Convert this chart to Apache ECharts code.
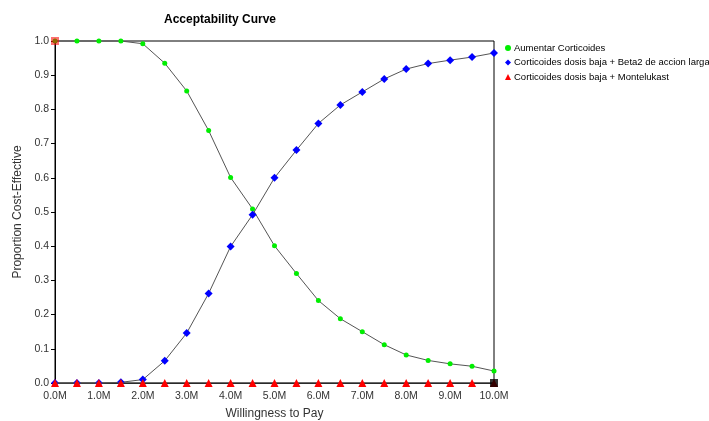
<!DOCTYPE html>
<html>
<head>
<meta charset="utf-8">
<script src="https://cdn.jsdelivr.net/npm/echarts@6/dist/echarts.min.js"></script>
<style>
html,body{margin:0;padding:0;background:#fff;}
#chart{width:709px;height:421px;}
</style>
</head>
<body>
<div id="chart"></div>
<script>
var wtp = [0, 0.5, 1.0, 1.5, 2.0, 2.5, 3.0, 3.5, 4.0, 4.5, 5.0, 5.5, 6.0, 6.5, 7.0, 7.5, 8.0, 8.5, 9.0, 9.5, 10.0];
var aumentar = [1.0, 1.0, 1.0, 1.0, 0.992, 0.935, 0.854, 0.738, 0.601, 0.509, 0.401, 0.320, 0.241, 0.188, 0.150, 0.112, 0.082, 0.066, 0.056, 0.049, 0.035];
var beta2 = [0, 0, 0, 0.002, 0.010, 0.065, 0.146, 0.262, 0.399, 0.492, 0.600, 0.681, 0.759, 0.813, 0.851, 0.889, 0.918, 0.934, 0.944, 0.953, 0.965];
var montelukast = [0, 0, 0, 0, 0, 0, 0, 0, 0, 0, 0, 0, 0, 0, 0, 0, 0, 0, 0, 0, 0];
var seriesNames = ['Aumentar Corticoides', 'Corticoides dosis baja + Beta2 de accion larga', 'Corticoides dosis baja + Montelukast'];
var cornerX = [0, 10];
var cornerY = [1, 0];

function pairs(xs, ys){ return xs.map(function(x,i){ return [x, ys[i]]; }); }

var font = 'Liberation Sans, Arial, sans-serif';
var chart = echarts.init(document.getElementById('chart'));
chart.setOption({
  animation: false,
  backgroundColor: '#fff',
  title: {
    text: 'Acceptability Curve',
    left: 159, top: 9,
    textStyle: {fontSize: 12, fontWeight: 'bold', color: '#000', fontFamily: font}
  },
  legend: {
    orient: 'vertical',
    left: 500, top: 38,
    itemWidth: 6, itemHeight: 6, itemGap: 4.5,
    textStyle: {fontSize: 9.5, color: '#000', fontFamily: font, padding: [0,0,0,-2]},
    data: [
      {name: seriesNames[0], icon: 'circle', itemStyle: {color: '#00ee00'}},
      {name: seriesNames[1], icon: 'diamond', itemStyle: {color: '#0000ff'}},
      {name: seriesNames[2], icon: 'triangle', itemStyle: {color: '#ff0000'}}
    ]
  },
  grid: {left: 55, right: 215, top: 41, bottom: 38, show: true, borderColor: '#000', borderWidth: 1,
    containLabel: false, outerBoundsMode: 'none'},
  xAxis: {
    type: 'value', min: 0, max: 10, interval: 1,
    name: 'Willingness to Pay', nameLocation: 'middle', nameGap: 25,
    nameTextStyle: {fontSize: 12, color: '#333', fontFamily: font},
    axisLine: {show: true, lineStyle: {color: '#000'}},
    axisTick: {show: true, length: 4, inside: false, lineStyle: {color: '#000'}},
    axisLabel: {fontSize: 10.5, color: '#333', fontFamily: font, margin: 8,
      formatter: function(v){ return v.toFixed(1) + 'M'; }},
    splitLine: {show: false}
  },
  yAxis: {
    type: 'value', min: 0, max: 1, interval: 0.1,
    name: 'Proportion Cost-Effective', nameLocation: 'middle', nameGap: 30, nameRotate: 90,
    nameTextStyle: {fontSize: 12, color: '#333', fontFamily: font},
    axisLine: {show: true, lineStyle: {color: '#000'}},
    axisTick: {show: true, length: 4, inside: false, lineStyle: {color: '#000'}},
    axisLabel: {fontSize: 10.5, color: '#333', fontFamily: font, margin: 6,
      formatter: function(v){ return v.toFixed(1); }},
    splitLine: {show: false}
  },
  series: [
    {
      name: seriesNames[0], type: 'line', data: pairs(wtp, aumentar),
      symbol: 'circle', symbolSize: 5, showAllSymbol: true, clip: false,
      lineStyle: {color: '#555', width: 1},
      itemStyle: {color: '#00ee00'}, z: 3
    },
    {
      name: seriesNames[1], type: 'line', data: pairs(wtp, beta2),
      symbol: 'diamond', symbolSize: 8, showAllSymbol: true, clip: false,
      lineStyle: {color: '#555', width: 1},
      itemStyle: {color: '#0000ff'}, z: 4
    },
    {
      name: seriesNames[2], type: 'line', data: pairs(wtp, montelukast),
      symbol: 'triangle', symbolSize: 8, showAllSymbol: true, clip: false,
      lineStyle: {color: '#555', width: 1},
      itemStyle: {color: '#ff0000'}, z: 5
    },
    {
      name: 'corners', type: 'scatter', data: pairs(cornerX, cornerY),
      symbol: 'rect', symbolSize: 8, clip: false, silent: true,
      itemStyle: {color: function(p){ return p.dataIndex === 0 ? 'rgba(255,0,0,0.7)' : '#000'; }},
      z: 6
    }
  ]
});
</script>
</body>
</html>
